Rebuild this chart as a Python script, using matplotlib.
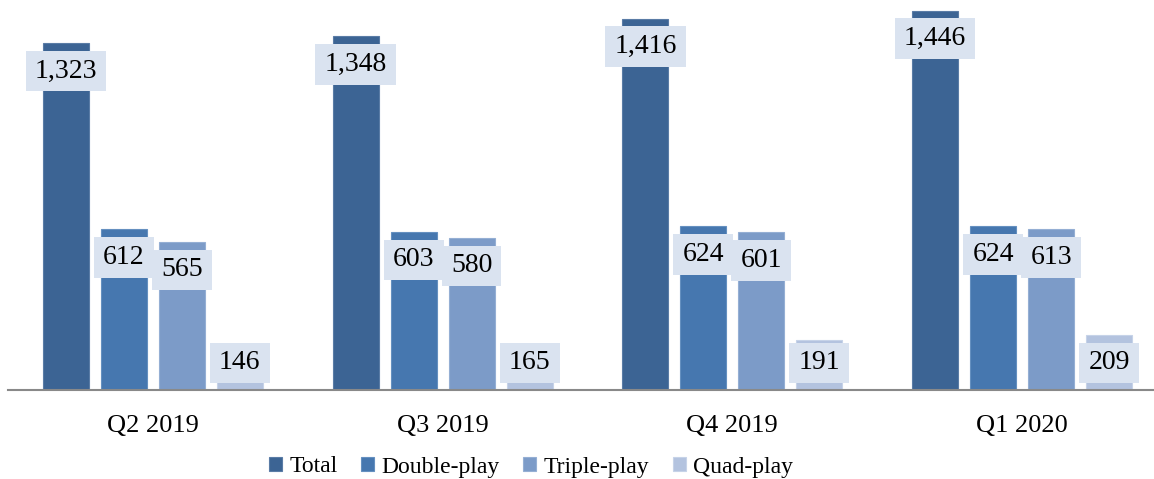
import matplotlib.pyplot as plt
import numpy as np

quarters = ["Q2 2019", "Q3 2019", "Q4 2019", "Q1 2020"]
series_names = ["Total", "Double-play", "Triple-play", "Quad-play"]
total = [1323, 1348, 1416, 1446]
double_play = [612, 603, 624, 624]
triple_play = [565, 580, 601, 613]
quad_play = [146, 165, 191, 209]

series_values = [total, double_play, triple_play, quad_play]
colors = ["#3c6494", "#4677af", "#7c9bc8", "#b3c3df"]
edge_colors = ["#5a7ca6", "#6590c0", "#95afd4", "#c6d3e8"]

plt.rcParams['font.family'] = ['Liberation Serif', 'DejaVu Serif']

fig = plt.figure(figsize=(11.54, 4.79), dpi=100)
# plot area runs a little past the right edge, like the original
ax = fig.add_axes([8 / 1154, 1 - 390 / 479, 1159 / 1154, 390 / 479])

x = np.arange(len(quarters))
step = 0.2
width = 0.159
ymax = 1487

for j, (name, vals) in enumerate(zip(series_names, series_values)):
    pos = x + (j - 1.5) * step
    ax.bar(pos, vals, width, color=colors[j], edgecolor=edge_colors[j],
           linewidth=0.8, label=name, zorder=2)

# data labels: boxed, just inside the top of each bar, kept above the axis
low = 210
for j, vals in enumerate(series_values):
    pos = x + (j - 1.5) * step
    for xi, v in zip(pos, vals):
        ax.annotate("{:,}".format(v), xy=(xi, max(v, low)), xytext=(0, -28),
                    textcoords='offset pixels', ha='center', va='center',
                    fontsize=20, color='black', zorder=5,
                    bbox=dict(boxstyle='square,pad=0.33', facecolor='#dae3f0',
                              edgecolor='none', mutation_aspect=0.85))

ax.set_xlim(-0.5, 3.5)
ax.set_ylim(0, ymax)
ax.set_xticks(x)
ax.set_xticklabels(quarters, fontsize=19)
ax.tick_params(axis='x', length=0, pad=18)
ax.set_yticks([])
for s in ['left', 'top', 'right']:
    ax.spines[s].set_visible(False)
ax.spines['bottom'].set_color('#898989')
ax.spines['bottom'].set_linewidth(1.5)
ax.spines['bottom'].set_zorder(6)

handles, labels = ax.get_legend_handles_labels()
fig.legend(handles, labels, loc='center', bbox_to_anchor=(531 / 1154, 1 - 467 / 479),
           ncol=4, frameon=False, fontsize=17, handlelength=0.55, handleheight=0.55,
           handletextpad=0.3, columnspacing=1.0, borderpad=0, borderaxespad=0)

fig.savefig("out.png", dpi=100)
